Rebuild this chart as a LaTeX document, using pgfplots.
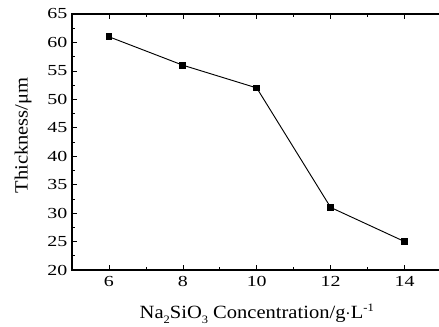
\documentclass[border=0pt]{standalone}
\usepackage{pgfplots}
\pgfplotsset{compat=1.18}
\usepackage{fontspec}
\setmainfont{Liberation Serif}
\newfontfamily\tickfont[FakeStretch=1.3]{Liberation Serif}
\newfontfamily\labelfont[FakeStretch=1.1]{Liberation Serif}
\begin{document}
\begin{tikzpicture}
\begin{axis}[
  scale only axis,
  width=277.1pt, height=192pt,
  xmin=5, xmax=15, ymin=20, ymax=65,
  xtick={6,8,10,12,14},
  ytick={20,25,...,65},
  minor x tick num=1,
  minor y tick num=1,
  tick align=inside,
  major tick length=4pt,
  minor tick length=2.5pt,
  xtick pos=both, ytick pos=left,
  axis line style={line width=0.9pt},
  every tick/.style={black, line width=0.5pt},
  tick label style={font=\tickfont\fontsize{11.5}{13}\selectfont},
  /pgf/number format/assume math mode=true,
  xlabel={Na\raisebox{-0.5ex}{\fontsize{8.5}{9}\selectfont 2}SiO\raisebox{-0.5ex}{\fontsize{8.5}{9}\selectfont 3} Concentration/g$\cdot$L\raisebox{0.9ex}{\fontsize{8.5}{9}\selectfont -1}},
  ylabel={Thickness/μm},
  label style={font=\labelfont\fontsize{14}{16}\selectfont},
  xlabel style={yshift=-6pt},
  ylabel style={yshift=5pt, xshift=5pt},
  xticklabel style={yshift=-1pt},
]
\addplot[black, line width=0.7pt, mark=square*, mark size=2.2pt, mark options={solid, fill=black}]
  coordinates {(6,61) (8,56) (10,52) (12,31) (14,25)};
\end{axis}
\pgfresetboundingbox
\useasboundingbox (-54pt,-42.75pt) rectangle (275.25pt,202.5pt);
\end{tikzpicture}
\end{document}
